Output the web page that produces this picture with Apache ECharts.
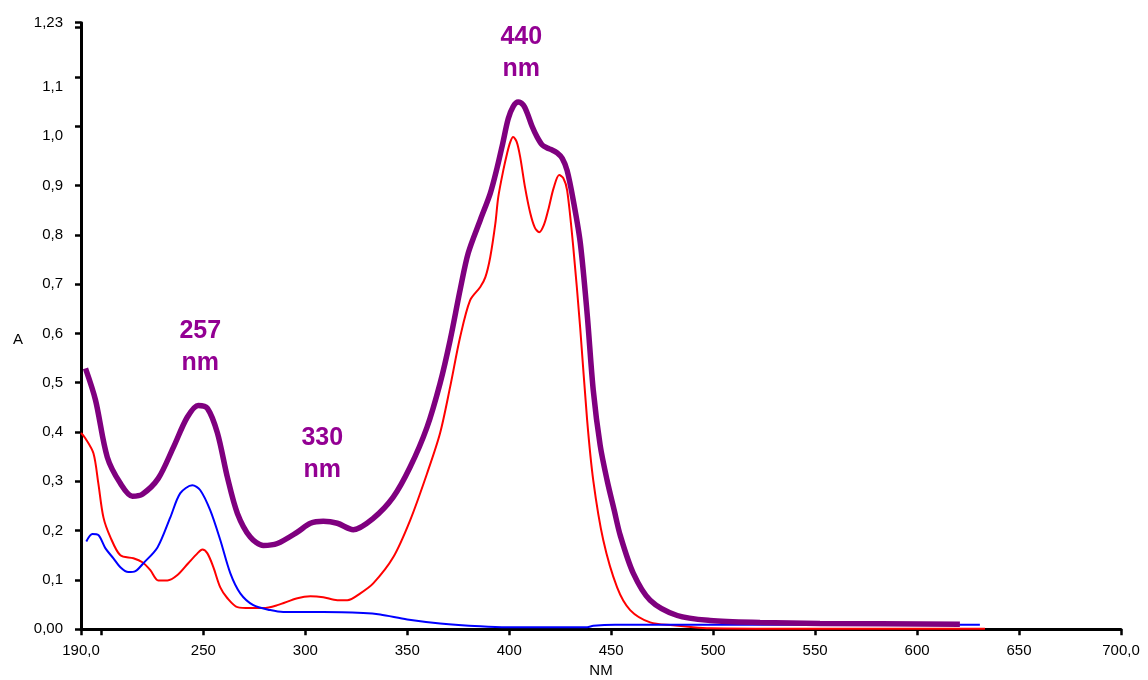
<!DOCTYPE html>
<html>
<head>
<meta charset="utf-8">
<script src="https://cdn.jsdelivr.net/npm/echarts@6.0.0/dist/echarts.min.js"></script>
<style>
html,body{margin:0;padding:0;background:#fff;}
#chart{width:1148px;height:680px;}
</style>
</head>
<body>
<div id="chart"></div>
<script>
// Wavelength (nm) / absorbance pairs
const purpleSpectrum = [
  [192.2,0.529],[197.1,0.465],[202.9,0.349],[209.3,0.296],[215.2,0.270],[220.1,0.274],
  [227.9,0.306],[235.3,0.369],[242.1,0.430],[247.5,0.454],[252.0,0.448],[256.9,0.398],
  [261.8,0.308],[266.7,0.235],[273.0,0.187],[279.4,0.170],[286.3,0.174],[296.1,0.197],
  [302.5,0.215],[308.8,0.219],[315.7,0.215],[323.5,0.202],[333.3,0.225],[343.1,0.268],
  [351.4,0.329],[359.7,0.410],[366.1,0.499],[371.0,0.586],[376.0,0.690],[379.9,0.763],
  [385.8,0.830],[390.7,0.884],[394.0,0.935],[396.8,0.985],[399.5,1.035],[401.9,1.060],
  [404.4,1.069],[406.9,1.063],[408.8,1.047],[411.2,1.020],[413.7,0.998],[416.2,0.982],
  [418.6,0.976],[421.0,0.972],[423.5,0.966],[426.0,0.955],[428.4,0.930],[431.4,0.870],
  [434.8,0.785],[438.2,0.640],[441.2,0.485],[444.6,0.373],[448.0,0.302],[451.5,0.241],
  [454.4,0.191],[460.8,0.114],[469.1,0.059],[482.4,0.028],[498.5,0.018],[523.0,0.014],
  [552.4,0.012],[621.0,0.010]
];
const redSpectrum = [
  [190.0,0.398],[192.2,0.387],[196.1,0.357],[198.5,0.296],[201.0,0.227],[204.4,0.187],
  [209.3,0.150],[215.7,0.144],[220.1,0.136],[224.0,0.120],[227.9,0.099],[232.4,0.099],
  [237.3,0.110],[242.6,0.134],[247.1,0.154],[249.5,0.162],[252.0,0.154],[254.9,0.126],
  [258.3,0.085],[261.8,0.063],[266.7,0.045],[273.0,0.043],[279.4,0.043],[286.3,0.049],
  [296.1,0.063],[302.5,0.067],[308.8,0.065],[315.7,0.059],[320.6,0.059],[327.0,0.073],
  [333.3,0.093],[343.1,0.146],[351.4,0.221],[359.7,0.316],[366.1,0.398],[371.0,0.491],
  [375.9,0.592],[380.8,0.667],[385.8,0.694],[388.3,0.714],[390.7,0.755],[393.2,0.823],
  [394.6,0.876],[397.1,0.931],[399.0,0.966],[400.5,0.988],[401.9,0.998],[403.7,0.988],
  [405.4,0.957],[407.8,0.895],[410.3,0.844],[412.5,0.815],[414.7,0.805],[417.0,0.820],
  [419.1,0.850],[421.8,0.895],[424.5,0.921],[426.5,0.915],[428.4,0.890],[431.4,0.775],
  [434.8,0.611],[438.2,0.424],[441.2,0.302],[446.1,0.181],[452.9,0.085],[459.3,0.039],
  [469.1,0.014],[480.4,0.008],[490.2,0.004],[498.5,0.002],[529.4,0.001],[633.3,0.001]
];
const blueSpectrum = [
  [192.6,0.178],[195.6,0.193],[198.5,0.191],[202.0,0.164],[205.9,0.144],[209.3,0.126],
  [213.2,0.116],[216.7,0.118],[220.6,0.134],[227.5,0.166],[233.8,0.227],[238.7,0.276],
  [244.6,0.292],[248.5,0.282],[253.4,0.241],[258.3,0.181],[263.2,0.114],[268.1,0.073],
  [274.5,0.049],[282.8,0.039],[289.2,0.035],[308.8,0.035],[328.4,0.033],[336.7,0.030],
  [350.0,0.020],[366.1,0.012],[385.8,0.006],[399.0,0.004],[438.2,0.004],[441.2,0.007],
  [451.9,0.009],[630.8,0.009]
];
const peakNotes = [
  {text:'257\nnm', at:[248.5,0.572]},
  {text:'330\nnm', at:[308.3,0.355]},
  {text:'440\nnm', at:[405.9,1.168]}
];
const xTickValues = [190,200,250,300,350,400,450,500,550,600,650,700];
const xLabelValues = [190,250,300,350,400,450,500,550,600,650,700];
const yTickValues = [0,0.1,0.2,0.3,0.4,0.5,0.6,0.7,0.8,0.9,1.02,1.12,1.22,1.23];
const yLabelValues = [0,0.1,0.2,0.3,0.4,0.5,0.6,0.7,0.8,0.9,1.0,1.1,1.23];

const FONT = '"Liberation Sans", Arial, sans-serif';
const chart = echarts.init(document.getElementById('chart'), null, {renderer:'canvas'});

function xFmt(v){ return (v===190||v===700) ? v.toFixed(1).replace('.',',') : String(v); }
function yFmt(v){
  if (Math.abs(v) < 1e-9) return '0,00';
  if (Math.abs(v-1.23) < 1e-9) return '1,23';
  return v.toFixed(1).replace('.',',');
}

chart.setOption({
  animation:false,
  backgroundColor:'#ffffff',
  grid:{left:81, right:27, top:22.7, bottom:50.7, containLabel:false, outerBoundsMode:'none'},
  xAxis:{
    type:'value', min:190, max:700,
    name:'NM', nameLocation:'middle', nameGap:33,
    nameTextStyle:{fontFamily:FONT, fontSize:15, color:'#000'},
    axisLine:{show:true, onZero:false, lineStyle:{color:'#000', width:3}},
    axisTick:{show:true, length:6, customValues:xTickValues, lineStyle:{color:'#000', width:2.5}},
    axisLabel:{customValues:xLabelValues, formatter:xFmt, fontFamily:FONT, fontSize:15, color:'#000', margin:14},
    splitLine:{show:false}
  },
  yAxis:{
    type:'value', min:0, max:1.23,
    name:'A', nameLocation:'middle', nameGap:58, nameRotate:0,
    nameTextStyle:{fontFamily:FONT, fontSize:15, color:'#000', verticalAlign:'top', padding:[6,0,0,0]},
    axisLine:{show:true, onZero:false, lineStyle:{color:'#000', width:3}},
    axisTick:{show:true, length:6, customValues:yTickValues, lineStyle:{color:'#000', width:2.5}},
    axisLabel:{customValues:yLabelValues, formatter:yFmt, fontFamily:FONT, fontSize:15, color:'#000', margin:18},
    splitLine:{show:false}
  },
  series:[
    {type:'line', name:'red', data:redSpectrum, showSymbol:false, smooth:0.3, clip:false,
     lineStyle:{color:'#ff0000', width:2}, z:3},
    {type:'line', name:'blue', data:blueSpectrum, showSymbol:false, smooth:0.3, clip:false,
     lineStyle:{color:'#0000ff', width:2}, z:4},
    {type:'line', name:'purple', data:purpleSpectrum, showSymbol:false, smooth:0.3, clip:false,
     lineStyle:{color:'#7f007f', width:5.5}, z:5,
     markPoint:{
       symbol:'circle', symbolSize:0, silent:true,
       label:{show:true, position:'inside', formatter:p=>p.name, fontFamily:FONT, fontSize:25,
              fontWeight:'bold', color:'#930093', lineHeight:32, align:'center', verticalAlign:'middle'},
       data: peakNotes.map(n=>({name:n.text, coord:n.at}))
     }}
  ]
});
</script>
</body>
</html>
